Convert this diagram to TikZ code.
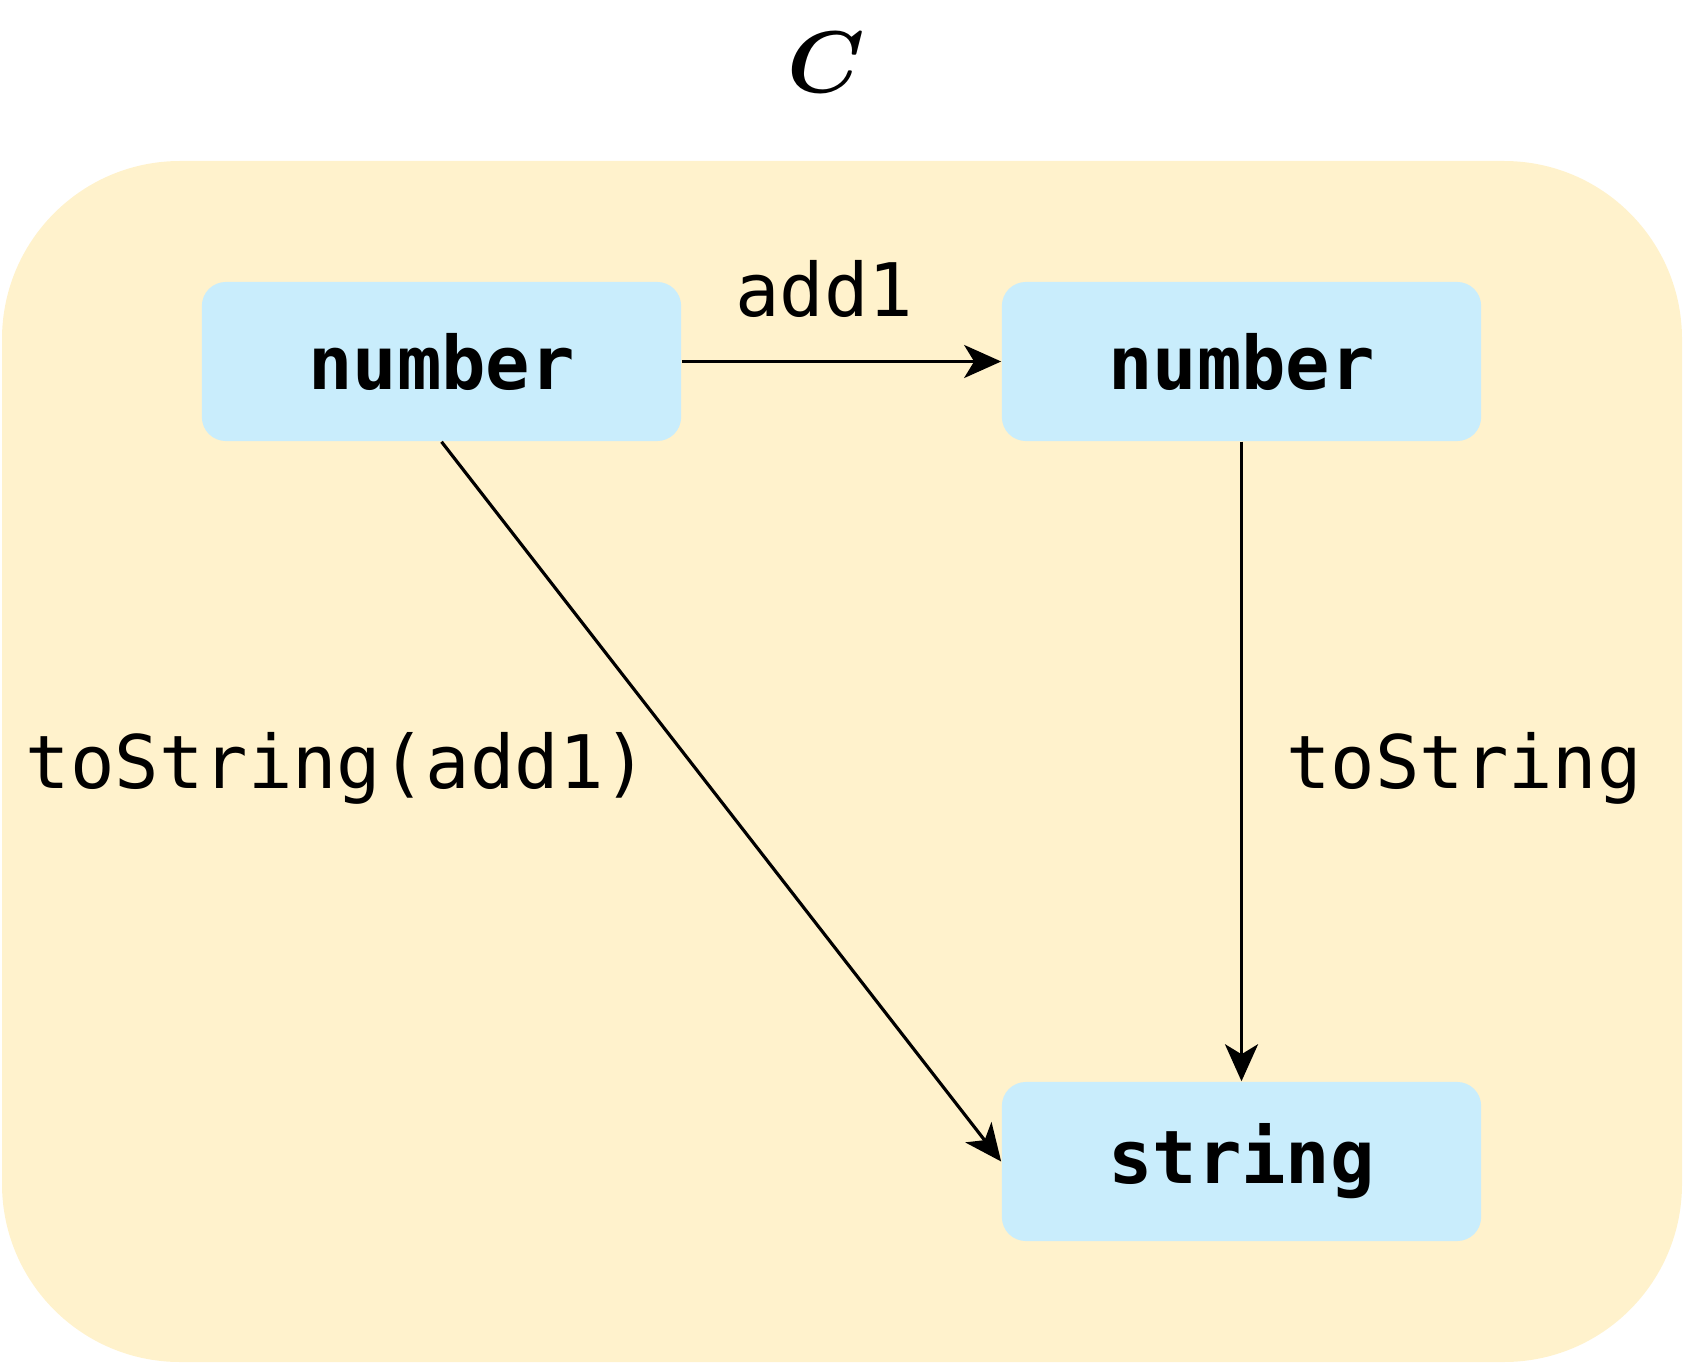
\documentclass[tikz,border=0pt]{standalone}
\usepackage{amsmath, amssymb}
\usepackage{fontspec}
\setmonofont{DejaVu Sans Mono}
\usepackage{tikz}
\usetikzlibrary{shapes, arrows.meta}

\definecolor{catbg}{HTML}{FFF2CC}
\definecolor{objbg}{HTML}{C9EDFC}

\tikzset{
  obj/.style={rectangle, rounded corners=0.24cm, fill=objbg, minimum width=4.79cm,
    minimum height=1.59cm, inner sep=0pt, font=\fontsize{21}{25}\selectfont\ttfamily\bfseries},
  lbl/.style={inner sep=0pt, font=\fontsize{21}{25}\selectfont\ttfamily},
  mor/.style={line width=0.9pt, -{Stealth[length=0.37cm, width=0.33cm, inset=0.1cm]}}
}

\begin{document}
\begin{tikzpicture}[x=0.01cm, y=-0.01cm]
\useasboundingbox (0, 0) rectangle (1688, 1364);

% the category
\fill[catbg, rounded corners=1.78cm] (2, 161) rectangle (1682, 1362);
\node (title) at (826, 62) {\fontsize{33}{40}\selectfont $\boldsymbol{C}$};

% objects
\node[obj] (num1) at (441.5, 361.5) {number};
\node[obj] (num2) at (1241.5, 361.5) {number};
\node[obj] (str) at (1241.5, 1161.5) {string};

% morphisms
\draw[mor] (num1.east) -- (num2.west);
\draw[mor] (num2.south) -- (str.north);
\draw[mor] (num1.south) -- (str.west);

\node[lbl] (add) at (824, 289) {add1};
\node[lbl] (tostr) at (1464, 768) {toString};
\node[lbl] (comp) at (337, 768) {toString(add1)};

\end{tikzpicture}
\end{document}
